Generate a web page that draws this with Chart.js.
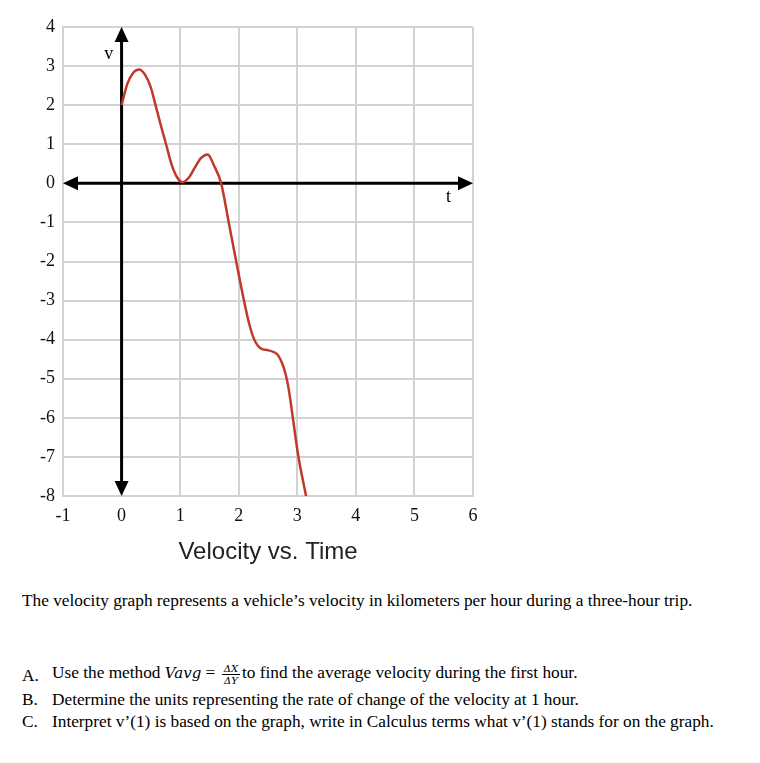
<!DOCTYPE html>
<html>
<head>
<meta charset="utf-8">
<script src="https://cdn.jsdelivr.net/npm/chart.js@4.4.1/dist/chart.umd.min.js"></script>
<style>
  html, body { margin: 0; padding: 0; background: #fff; }
  body { width: 760px; height: 763px; position: relative; overflow: hidden; }
  #wrap { position: absolute; left: 0; top: 0; width: 500px; height: 575px; }
  .txt { position: absolute; font-family: "Liberation Serif", "Times New Roman", serif; font-size: 17.3px; color: #000; white-space: nowrap; line-height: 19px; }
  .lbl { position: absolute; left: 22px; }
  .body { position: absolute; left: 52px; }
  .frac { display: inline-block; vertical-align: middle; text-align: center; font-family: "DejaVu Serif", serif; font-style: italic; font-size: 10px; line-height: 11px; margin: 0 2px; }
  .frac .num { display: block; border-bottom: 1px solid #000; padding: 0 2px; }
  .frac .den { display: block; padding: 0 2px; }
  .math { font-family: "DejaVu Serif", serif; font-style: italic; font-size: 15px; }
</style>
</head>
<body>
<div id="wrap"><canvas id="c" width="500" height="575"></canvas></div>

<div class="txt" style="left:22px; top:591px;">The velocity graph represents a vehicle’s velocity in kilometers per hour during a three-hour trip.</div>

<div class="txt" style="left:0; top:663px; width:760px; height:24px;">
  <span class="lbl" style="top:3px;">A.</span>
  <span class="body" style="top:0;">Use the method <span class="math">Vavg</span> = <span class="frac"><span class="num">ΔX</span><span class="den">ΔY</span></span>to find the average velocity during the first hour.</span>
</div>
<div class="txt" style="left:0; top:690px;">
  <span class="lbl">B.</span>
  <span class="body">Determine the units representing the rate of change of the velocity at 1 hour.</span>
</div>
<div class="txt" style="left:0; top:712px;">
  <span class="lbl">C.</span>
  <span class="body">Interpret v’(1) is based on the graph, write in Calculus terms what v’(1) stands for on the graph.</span>
</div>

<script>
// ---- data ----
const timeValues = [0, 0.1, 0.2, 0.3, 0.4, 0.5, 0.58, 0.7, 0.76, 0.85, 0.95, 1.04, 1.15, 1.25, 1.35, 1.47, 1.58, 1.70, 1.83, 1.96, 2.09, 2.18, 2.26, 2.33, 2.4, 2.5, 2.6, 2.66, 2.71, 2.76, 2.8, 2.84, 2.88, 2.92, 2.97, 3.02, 3.15];
const velocityValues = [2.0, 2.55, 2.83, 2.91, 2.78, 2.45, 2.0, 1.32, 1.0, 0.5, 0.15, 0.03, 0.15, 0.4, 0.64, 0.74, 0.45, 0.0, -1.0, -2.02, -3.0, -3.6, -3.98, -4.16, -4.24, -4.27, -4.32, -4.38, -4.5, -4.68, -4.88, -5.15, -5.52, -5.95, -6.5, -7.0, -8.0];
const xTickRange = [-1, 6];
const yTickRange = [-8, 4];
const axisLabels = { x: 't', y: 'v' };
const chartTitle = 'Velocity vs. Time';

const curvePoints = timeValues.map((t, i) => ({ x: t, y: velocityValues[i] }));

const axesPlugin = {
  id: 'arrowAxes',
  beforeDatasetsDraw(chart) {
    const ctx = chart.ctx;
    const xs = chart.scales.x, ys = chart.scales.y;
    const x0 = xs.getPixelForValue(0), y0 = ys.getPixelForValue(0);
    const xL = xs.getPixelForValue(xTickRange[0]), xR = xs.getPixelForValue(xTickRange[1]);
    const yT = ys.getPixelForValue(yTickRange[1]), yB = ys.getPixelForValue(yTickRange[0]);
    const aL = 15, aW = 7;
    ctx.save();
    ctx.strokeStyle = '#000';
    ctx.fillStyle = '#000';
    ctx.lineWidth = 3;
    ctx.beginPath();
    ctx.moveTo(x0, yT + aL - 2); ctx.lineTo(x0, yB - aL + 2); ctx.stroke();
    ctx.beginPath();
    ctx.moveTo(xL + aL - 2, y0); ctx.lineTo(xR - aL + 2, y0); ctx.stroke();
    const tri = (p1, p2, p3) => { ctx.beginPath(); ctx.moveTo(...p1); ctx.lineTo(...p2); ctx.lineTo(...p3); ctx.closePath(); ctx.fill(); };
    tri([x0, yT], [x0 - aW, yT + aL], [x0 + aW, yT + aL]);
    tri([x0, yB], [x0 - aW, yB - aL], [x0 + aW, yB - aL]);
    tri([xL, y0], [xL + aL, y0 - aW], [xL + aL, y0 + aW]);
    tri([xR, y0], [xR - aL, y0 - aW], [xR - aL, y0 + aW]);
    ctx.font = '18px "Liberation Serif", serif';
    ctx.textAlign = 'center';
    ctx.textBaseline = 'middle';
    ctx.fillText(axisLabels.y, xs.getPixelForValue(-0.22), ys.getPixelForValue(3.3));
    ctx.fillText(axisLabels.x, xs.getPixelForValue(5.58), ys.getPixelForValue(-0.36));
    ctx.restore();
  }
};

new Chart(document.getElementById('c'), {
  type: 'line',
  data: {
    datasets: [{
      data: curvePoints,
      borderColor: '#c0392b',
      borderWidth: 2.5,
      pointRadius: 0,
      fill: false,
      cubicInterpolationMode: 'monotone'
    }]
  },
  options: {
    responsive: false,
    animation: false,
    layout: { padding: { top: 27, right: 27, left: 0, bottom: 0 } },
    plugins: {
      legend: { display: false },
      tooltip: { enabled: false },
      title: {
        display: true,
        text: chartTitle,
        position: 'bottom',
        fullSize: false,
        color: '#222',
        font: { family: '"Liberation Sans", Arial, sans-serif', size: 24, weight: 'normal' },
        padding: { top: 11, bottom: 8 }
      }
    },
    scales: {
      x: {
        type: 'linear',
        min: xTickRange[0], max: xTickRange[1],
        ticks: { stepSize: 1, color: '#111', padding: 9, font: { family: '"Liberation Serif", serif', size: 18 } },
        grid: { color: '#d2d2d2', lineWidth: 2, drawTicks: false },
        border: { color: '#d2d2d2', width: 2 },
        afterFit: s => { s.height = 31.2; }
      },
      y: {
        type: 'linear',
        min: yTickRange[0], max: yTickRange[1],
        ticks: { stepSize: 1, color: '#111', padding: 8, font: { family: '"Liberation Serif", serif', size: 18 } },
        grid: { color: '#d2d2d2', lineWidth: 2, drawTicks: false },
        border: { color: '#d2d2d2', width: 2 },
        afterFit: s => { s.width = 63; }
      }
    }
  },
  plugins: [axesPlugin]
});
</script>
</body>
</html>
